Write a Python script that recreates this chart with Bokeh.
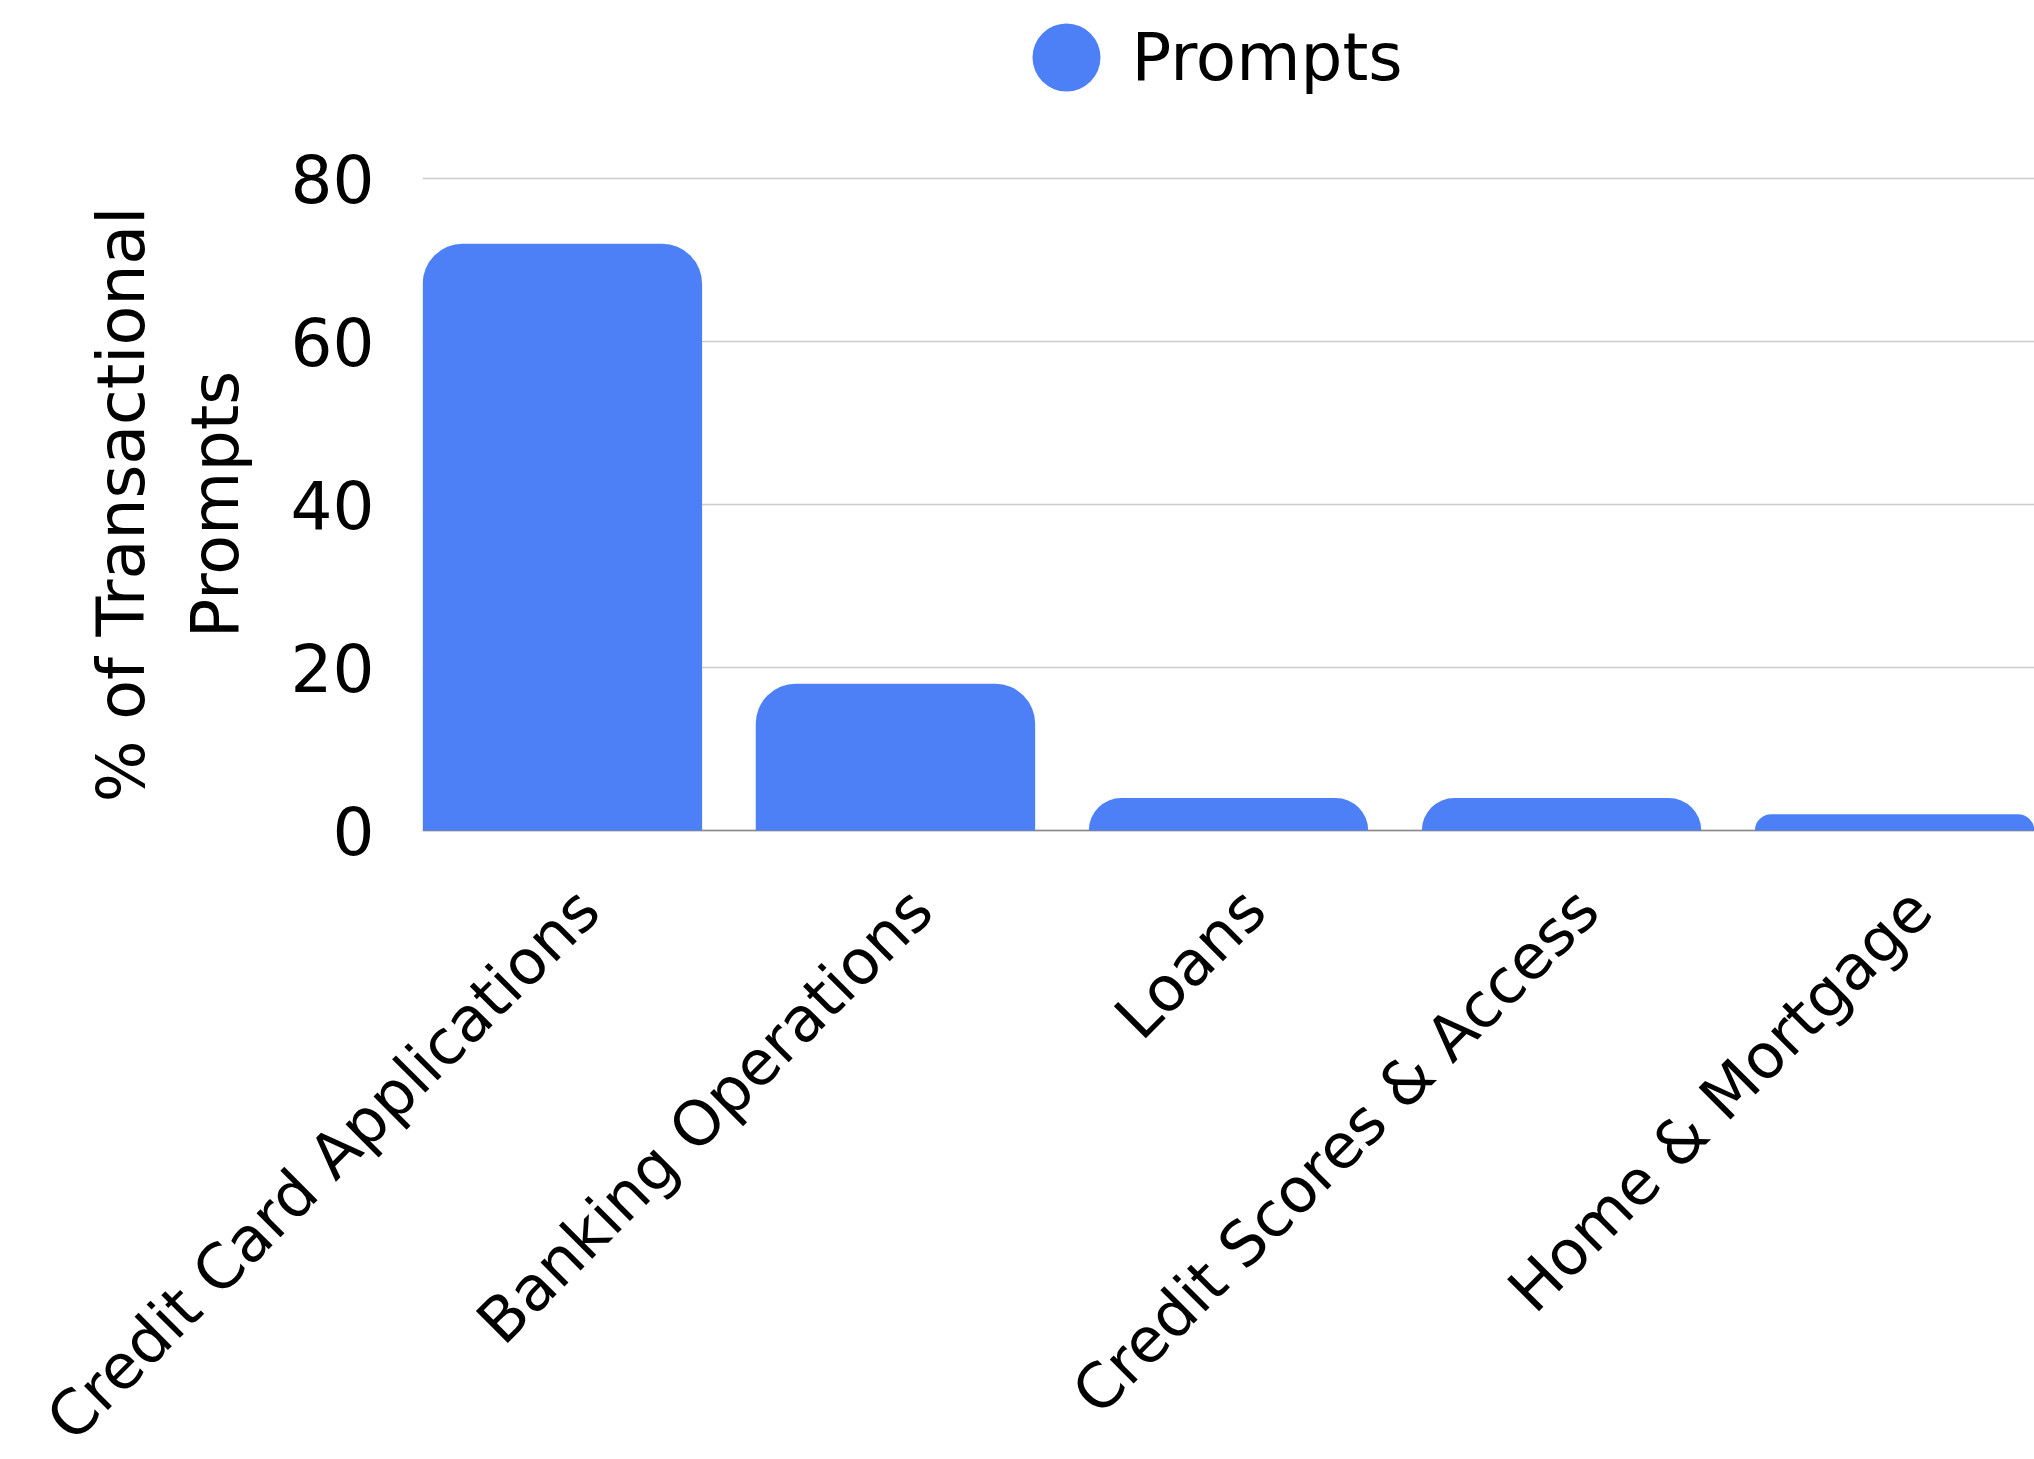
import math
from bokeh.plotting import figure
from bokeh.layouts import column
from bokeh.core.properties import value
from bokeh.models import (ColumnDataSource, FactorRange, Range1d, Legend, LegendItem,
                          FixedTicker, Span, Label)
from bokeh.embed import file_html
from bokeh.resources import INLINE

categories = ["Credit Card Applications", "Banking Operations", "Loans",
              "Credit Scores & Access", "Home & Mortgage"]
values = [72, 18, 4, 4, 2]
series_name = "Prompts"
y_ticks = [0, 20, 40, 60, 80]
y_label = "% of Transactional\nPrompts"

FONT = "DejaVu Sans"
BAR = "#4D80F6"
W = 2034
LEFT = 422
PAD = -0.08
TOP_H = 120
MID_H = 753

src = ColumnDataSource(dict(cat=categories, val=values))

# ---- legend strip (top) ----
top = figure(
    width=W, height=TOP_H,
    x_range=FactorRange(*categories), y_range=Range1d(0, 80),
    output_backend="svg", toolbar_location=None,
    x_axis_location=None, y_axis_location=None,
    min_border_left=0, min_border_right=0, min_border_top=0, min_border_bottom=0,
)
top.outline_line_color = None
top.grid.grid_line_color = None
leg_r = top.scatter(x="cat", y="val", source=src, marker="circle", fill_color=BAR,
                    line_color=None, visible=False)
legend = Legend(items=[LegendItem(label=" ", renderers=[leg_r])],
                location=(559, -22), orientation="horizontal",
                glyph_width=170, glyph_height=170, label_standoff=0,
                padding=0, margin=0, spacing=0,
                border_line_color=None, background_fill_alpha=0,
                label_text_font=FONT, label_text_font_size="66px",
                label_text_color="black")
top.add_layout(legend, "center")
top.add_layout(Label(x=709, y=TOP_H - 57, x_units="screen", y_units="screen",
                     text=series_name, text_font=FONT, text_font_size="66px",
                     text_color="black", text_baseline="middle", text_align="left"))

# ---- main chart ----
p = figure(
    width=W, height=MID_H,
    x_range=FactorRange(*categories, range_padding=PAD, range_padding_units="absolute"),
    y_range=Range1d(-5.277, 85.28),
    output_backend="svg", toolbar_location=None, x_axis_location=None,
    min_border_left=LEFT, min_border_right=0, min_border_top=15, min_border_bottom=0,
)
p.outline_line_color = None

p.vbar(x="cat", top="val", bottom=0, width=0.839, source=src,
       fill_color=BAR, line_color=None, border_radius=(40, 40, 0, 0))

p.xgrid.grid_line_color = None
p.ygrid.ticker = FixedTicker(ticks=y_ticks)
p.ygrid.grid_line_color = "#cccccc"
p.ygrid.grid_line_width = 1.5
p.add_layout(Span(location=0, dimension="width", line_color="#888888",
                  line_width=1.5, level="underlay"))

p.yaxis.ticker = FixedTicker(ticks=y_ticks)
p.yaxis.axis_line_color = None
p.yaxis.major_tick_line_color = None
p.yaxis.minor_tick_line_color = None
p.yaxis.major_label_standoff = 42
p.yaxis.major_label_text_font = FONT
p.yaxis.major_label_text_font_size = "66px"
p.yaxis.major_label_text_color = "black"
p.yaxis.axis_label = y_label
p.yaxis.axis_label_text_font = FONT
p.yaxis.axis_label_text_font_size = "65px"
p.yaxis.axis_label_text_font_style = "normal"
p.yaxis.axis_label_text_color = "black"
p.yaxis.axis_label_text_line_height = 1.25
p.yaxis.axis_label_standoff = 35

# ---- category labels strip (bottom) ----
n = len(categories)
x_start, x_end = 0 - PAD, n + PAD
ppu = (W - LEFT) / (x_end - x_start)
bot_h = 1459 - TOP_H - MID_H
bot = figure(
    width=W, height=bot_h,
    x_range=Range1d(x_start - LEFT / ppu, x_end), y_range=Range1d(-bot_h, 0),
    output_backend="svg", toolbar_location=None,
    x_axis_location=None, y_axis_location=None, frame_align=False,
    min_border_left=0, min_border_right=0, min_border_top=0, min_border_bottom=0,
)
bot.outline_line_color = None
bot.grid.grid_line_color = None
lab_src = ColumnDataSource(dict(x=[i + 0.5 for i in range(n)], y=[0] * n, t=categories))
bot.text(x="x", y="y", text="t", source=lab_src, angle=math.pi / 4,
         text_align="right", text_baseline="top", x_offset=0, y_offset=0,
         text_font=value(FONT), text_font_size=value("62px"), text_color="black")

layout = column(top, p, bot, spacing=0)
open("out.html", "w").write(file_html(layout, INLINE))
